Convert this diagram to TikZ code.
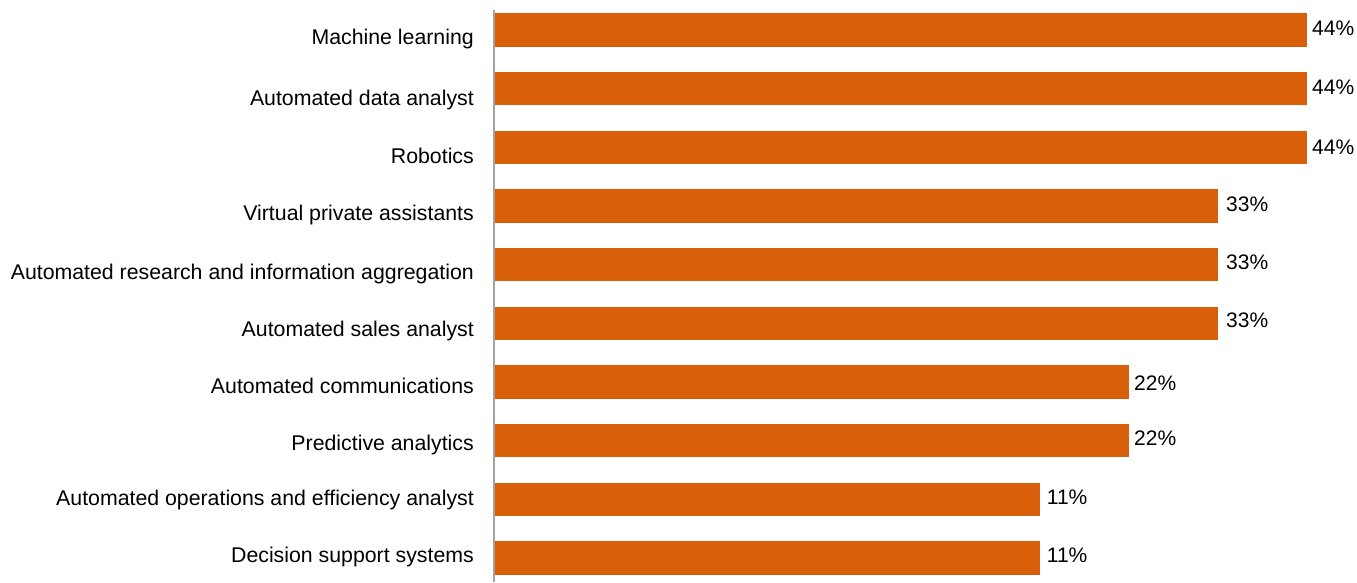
\documentclass[tikz,border=0pt]{standalone}
\usepackage{fontspec}
\setmainfont{Liberation Sans}
\usetikzlibrary{positioning}
\definecolor{barorange}{HTML}{D95F0B}
\definecolor{axisgray}{HTML}{A3A3A3}
\begin{document}
\begin{tikzpicture}[x=1pt,y=-1pt,
bar/.style={fill=barorange,draw=none,inner sep=0pt,outer sep=0pt,minimum height=33.5pt,anchor=west},
cat/.style={inner sep=0pt,font=\fontsize{21.3}{25}\selectfont},
pct/.style={inner sep=0pt,font=\fontsize{21}{25}\selectfont},
axis/.style={draw=axisgray,line width=2pt}]
\useasboundingbox (0,0) rectangle (1357,582);
% label / bar length / value / label drop / value drop / value gap
\foreach \lab/\barlen/\pc/\lo/\po/\gap [count=\i] in {
  Machine learning/812/44/14.3/5/5,
  Automated data analyst/812/44/17/5.6/5,
  Robotics/812/44/16/7/5,
  Virtual private assistants/723/33/14.7/5/8,
  Automated research and information aggregation/723/33/14.6/4.6/8,
  Automated sales analyst/723/33/13.4/4.4/8,
  Automated communications/634/22/11.3/8/5,
  Predictive analytics/634/22/10/5.3/5,
  Automated operations and efficiency analyst/545/11/5.7/5/6.7,
  Decision support systems/545/11/4/4.7/6.7}{
  \pgfmathsetmacro\yc{30+58.67*(\i-1)}
  \node[bar,minimum width=\barlen pt] (bar\i) at (495,\yc) {};
  \node[cat,base left=21pt of bar\i.west,yshift=-\lo pt] (lbl\i) {\lab};
  \node[pct,base right=\gap pt of bar\i.east,yshift=-\po pt] (val\i) {\pc\%};
}
\coordinate (axtop) at (494,10);
\coordinate (axbot) at (494,582);
\draw[axis] (axtop) -- (axbot);
\end{tikzpicture}
\end{document}
